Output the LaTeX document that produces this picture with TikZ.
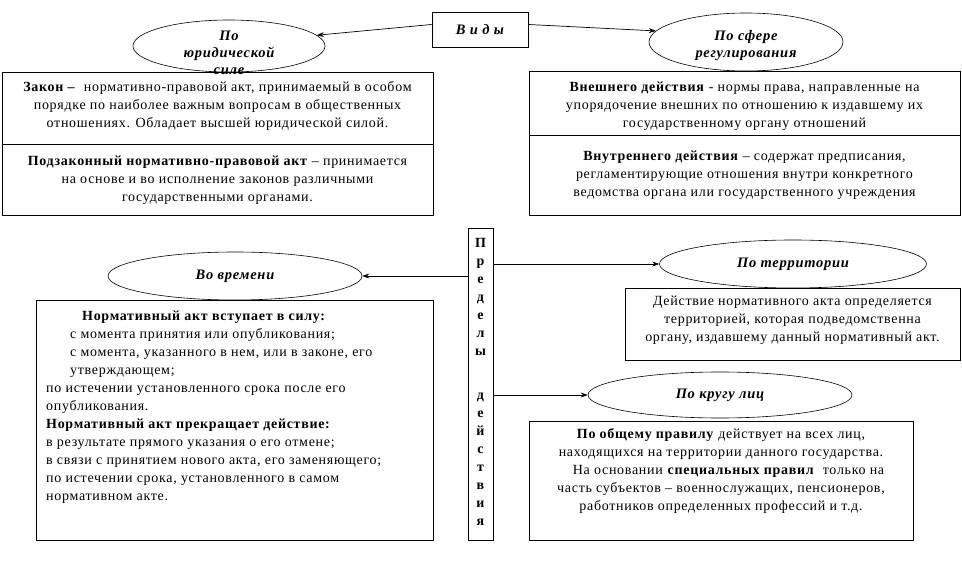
\documentclass[tikz,border=0pt]{standalone}
\usepackage{fontspec}
\setmainfont[LetterSpace=5]{Liberation Serif}
\usetikzlibrary{shapes.geometric,arrows.meta,calc}
\tikzset{
  boxn/.style={draw, line width=0.9pt, inner sep=0pt},
  ell/.style={draw, ellipse, line width=0.6pt, inner sep=0pt},
  etxt/.style={inner sep=0pt, align=center, font=\fontsize{14.5}{17}\selectfont\bfseries\itshape},
  txt/.style={inner sep=0pt, align=center, font=\fontsize{14}{18}\selectfont},
  ltxt/.style={inner sep=0pt, align=left, font=\fontsize{14}{18}\selectfont},
  arr/.style={-{Stealth[length=7pt,width=5pt]}, line width=0.7pt}
}
\begin{document}
\begin{tikzpicture}[x=1pt,y=-1pt]
\useasboundingbox (0,0) rectangle (962,577);

% top
\node[boxn, minimum width=96, minimum height=35, etxt] (vids) at (480,29.5) {В и д ы};
\node[ell, minimum width=192, minimum height=52] (e1) at (229,46) {};
\node[etxt] (e1t) at (229,53) {По\\юридической\\силе};
\node[ell, minimum width=194, minimum height=58] (e2) at (746,42) {};
\node[etxt] (e2t) at (746,46) {По сфере\\регулирования};

\draw[arr] ($(vids.west)+(0,-5)$) -- (e1.7);
\draw[arr] ($(vids.east)+(0,-5)$) -- (e2.173);

\node[boxn, minimum width=431, minimum height=72] (zakon) at (217.5,108) {};
\node[txt] (zakont) at (217.5,106) {\textbf{Закон –}\ \ нормативно-правовой акт, принимаемый в особом\\порядке по наиболее важным вопросам в общественных\\отношениях. Обладает высшей юридической силой.};
\node[boxn, minimum width=431, minimum height=71] (podz) at (217.5,179.5) {};
\node[txt] (podzt) at (217.5,180) {\textbf{Подзаконный нормативно-правовой акт} – принимается\\на основе и во исполнение законов различными\\государственными органами.};

\node[boxn, minimum width=431, minimum height=64] (vnesh) at (744.5,103) {};
\node[txt] (vnesht) at (744.5,106) {\textbf{Внешнего действия} - нормы права, направленные на\\упорядочение внешних по отношению к издавшему их\\государственному органу отношений};
\node[boxn, minimum width=431, minimum height=80] (vnutr) at (744.5,175) {};
\node[txt] (vnutrt) at (744.5,175) {\textbf{Внутреннего действия} – содержат предписания,\\регламентирующие отношения внутри конкретного\\ведомства органа или государственного учреждения};

% centre column
\node[boxn, minimum width=25, minimum height=312] (pred) at (480.5,384) {};
\node[inner sep=0pt, align=center, font=\fontsize{14}{18}\selectfont\bfseries] (predt) at (480.5,382) {П\\р\\е\\д\\е\\л\\ы\\[26pt]д\\е\\й\\с\\т\\в\\и\\я};

% time
\node[ell, minimum width=254, minimum height=48] (vr) at (235,276) {};
\node[etxt] (vrt) at (235,276) {Во времени};
\node[boxn, minimum width=397, minimum height=240] (vrbox) at (234.5,420) {};
\node[ltxt, anchor=west] (vrboxt) at (46,407) {\hspace*{36pt}\textbf{Нормативный акт вступает в силу:}\\
\hspace*{24pt}с момента принятия или опубликования;\\
\hspace*{24pt}с момента, указанного в нем, или в законе, его\\
\hspace*{24pt}утверждающем;\\
по истечении установленного срока после его\\
опубликования.\\
\textbf{Нормативный акт прекращает действие:}\\
в результате прямого указания о его отмене;\\
в связи с принятием нового акта, его заменяющего;\\
по истечении срока, установленного в самом\\
нормативном акте.};
\draw[arr] (pred.west |- vr.east) -- (vr.east);

% territory
\node[ell, minimum width=267, minimum height=48] (ter) at (793,264) {};
\node[etxt] (tert) at (793,264) {По территории};
\node[boxn, minimum width=335, minimum height=72] (terbox) at (792.5,324) {};
\node[txt] (terboxt) at (792.5,320) {Действие нормативного акта определяется\\территорией, которая подведомственна\\органу, издавшему данный нормативный акт.};
\draw[arr] (pred.east |- ter.west) -- (ter.west);

% persons
\node[ell, minimum width=264, minimum height=46] (kr) at (720,395) {};
\node[etxt] (krt) at (720,395) {По кругу лиц};
\node[boxn, minimum width=384, minimum height=119] (krbox) at (721,480.5) {};
\node[txt] (krboxt) at (721,471) {\textbf{По общему правилу} действует на всех лиц,\\находящихся на территории данного государства.\\\hspace*{15pt}На основании \textbf{специальных правил}\ \ только на\\часть субъектов – военнослужащих, пенсионеров,\\работников определенных профессий и т.д.};
\draw[arr] (pred.east |- kr.west) -- (kr.west);
\end{tikzpicture}
\end{document}
